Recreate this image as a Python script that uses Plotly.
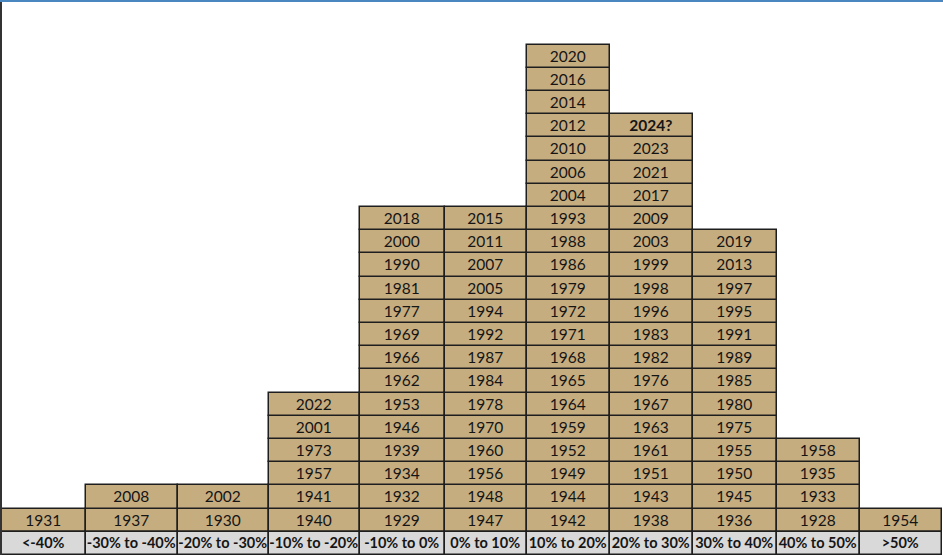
import numpy as np
import plotly.graph_objects as go

# ---- data ----
categories = ["<-40%", "-30% to -40%", "-20% to -30%", "-10% to -20%", "-10% to 0%",
              "0% to 10%", "10% to 20%", "20% to 30%", "30% to 40%", "40% to 50%", ">50%"]

yrs_lt_m40 = ["1931"]
yrs_m30_m40 = ["1937", "2008"]
yrs_m20_m30 = ["1930", "2002"]
yrs_m10_m20 = ["1940", "1941", "1957", "1973", "2001", "2022"]
yrs_m10_0 = ["1929", "1932", "1934", "1939", "1946", "1953", "1962", "1966", "1969",
             "1977", "1981", "1990", "2000", "2018"]
yrs_0_10 = ["1947", "1948", "1956", "1960", "1970", "1978", "1984", "1987", "1992",
            "1994", "2005", "2007", "2011", "2015"]
yrs_10_20 = ["1942", "1944", "1949", "1952", "1959", "1964", "1965", "1968", "1971",
             "1972", "1979", "1986", "1988", "1993", "2004", "2006", "2010", "2012",
             "2014", "2016", "2020"]
yrs_20_30 = ["1938", "1943", "1951", "1961", "1963", "1967", "1976", "1982", "1983",
             "1996", "1998", "1999", "2003", "2009", "2017", "2021", "2023", "<b>2024?</b>"]
yrs_30_40 = ["1936", "1945", "1950", "1955", "1975", "1980", "1985", "1989", "1991",
             "1995", "1997", "2013", "2019"]
yrs_40_50 = ["1928", "1933", "1935", "1958"]
yrs_gt_50 = ["1954"]

columns = [yrs_lt_m40, yrs_m30_m40, yrs_m20_m30, yrs_m10_m20, yrs_m10_0, yrs_0_10,
           yrs_10_20, yrs_20_30, yrs_30_40, yrs_40_50, yrs_gt_50]

# ---- layout (column widths like spreadsheet columns) ----
col_widths = np.array([84, 92, 91, 91, 85, 82, 83, 83, 84, 83, 82], dtype=float)
edges = np.concatenate([[0], np.cumsum(col_widths)])
centers = (edges[:-1] + edges[1:]) / 2

FILL = "#C6AD80"
LABEL_FILL = "#D9D9D9"
BORDER = "#1e1e1e"
FONT = "Lato"

xs, ws, bases, texts = [], [], [], []
for ci, yrs in enumerate(columns):
    for ri, t in enumerate(yrs):
        xs.append(centers[ci])
        ws.append(col_widths[ci])
        bases.append(ri)
        texts.append(t)

fig = go.Figure()
fig.add_trace(go.Bar(
    x=xs, y=[1] * len(xs), base=bases, width=ws, text=texts,
    textposition="inside", insidetextanchor="middle", textangle=0,
    constraintext="none",
    textfont=dict(family=FONT, size=15.5, color="#151515"),
    marker=dict(color=FILL, line=dict(color=BORDER, width=1.5)),
    hoverinfo="skip", showlegend=False,
))
fig.add_trace(go.Bar(
    x=list(centers), y=[1] * len(categories), base=[-1] * len(categories),
    width=list(col_widths), text=["<b>%s</b>" % c for c in categories],
    textposition="inside", insidetextanchor="middle", textangle=0,
    constraintext="none",
    textfont=dict(family=FONT, size=14.5, color="#151515"),
    marker=dict(color=LABEL_FILL, line=dict(color=BORDER, width=1.5)),
    hoverinfo="skip", showlegend=False,
))

fig.update_layout(
    width=943, height=559,
    margin=dict(l=2, r=1, t=1, b=4),
    paper_bgcolor="white", plot_bgcolor="white",
    barmode="overlay", bargap=0,
    xaxis=dict(range=[edges[0], edges[-1]], visible=False, fixedrange=True),
    yaxis=dict(range=[-1, 22.88], showgrid=False, zeroline=False, showticklabels=False,
               ticks="", showline=True, linecolor="#333333", linewidth=1.5, fixedrange=True),
    shapes=[dict(type="line", xref="paper", yref="paper", x0=-0.01, x1=1.01, y0=1, y1=1,
                 line=dict(color="#4A86C0", width=2))],
)

fig.write_html("out.html", config={"displayModeBar": False},
               post_script="document.body.style.margin='0';document.body.style.padding='0';")
